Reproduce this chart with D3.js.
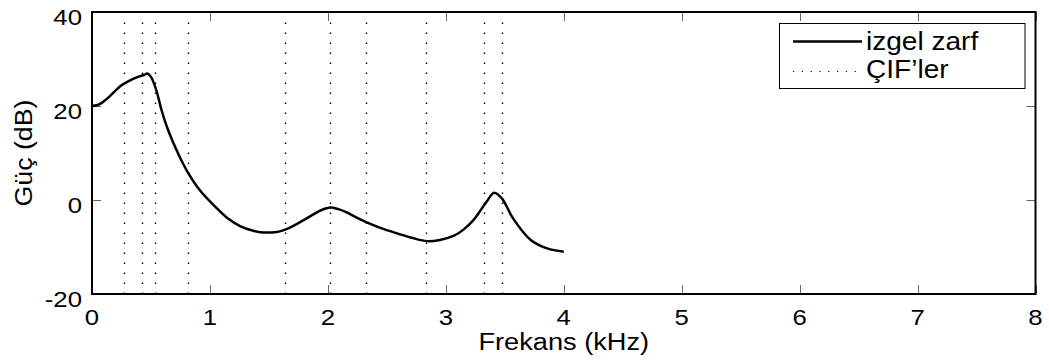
<!DOCTYPE html>
<html>
<head>
<meta charset="utf-8">
<script src="https://cdn.jsdelivr.net/npm/d3@7/dist/d3.min.js"></script>
<style>
  html, body { margin: 0; padding: 0; background: #fff; }
  svg { display: block; }
  text { font-family: "Liberation Sans", Arial, Helvetica, sans-serif; fill: #000; }
</style>
</head>
<body>
<svg id="chart" width="1049" height="363"></svg>
<script>
// ---- data ----
const freqKHz = [0, 0.04, 0.08, 0.12, 0.16, 0.25, 0.31, 0.39, 0.44, 0.47, 0.50, 0.545, 0.59, 0.645, 0.73, 0.81, 0.92, 1.04, 1.15, 1.26, 1.36, 1.45, 1.55, 1.62, 1.70, 1.82, 1.93, 1.98, 2.03, 2.09, 2.16, 2.24, 2.33, 2.45, 2.6, 2.72, 2.84, 2.95, 3.07, 3.15, 3.23, 3.30, 3.35, 3.41, 3.475, 3.57, 3.72, 3.86, 4.0];
const powerDB = [20, 20.15, 20.6, 21.4, 22.3, 24.4, 25.3, 26.2, 26.6, 26.9, 26.2, 23.4, 19.1, 14.9, 9.9, 6.0, 1.9, -1.3, -3.9, -5.6, -6.5, -6.9, -6.85, -6.45, -5.6, -3.9, -2.3, -1.8, -1.6, -1.95, -2.65, -3.7, -4.75, -6.0, -7.2, -8.1, -8.75, -8.5, -7.6, -6.3, -4.4, -2.0, -0.2, 1.55, 0.35, -3.9, -8.5, -10.3, -11.0];
const formantsKHz = [0.268, 0.424, 0.534, 0.81, 1.638, 2.02, 2.322, 2.836, 3.322, 3.475];
const xTicks = [0, 1, 2, 3, 4, 5, 6, 7, 8];
const yTicks = [-20, 0, 20, 40];
const xLabel = "Frekans (kHz)";
const yLabel = "Güç (dB)";
const legendLabels = ["izgel zarf", "ÇIF’ler"];

// ---- layout ----
const svg = d3.select("#chart");
const x = d3.scaleLinear().domain([0, 8]).range([92, 1035.5]);
const y = d3.scaleLinear().domain([-20, 40]).range([294, 12]);
const tickLen = 9;
const crisp = v => Math.round(v) + 0.5;

// tick marks (inward, all four sides)
const tg = svg.append("g").attr("stroke", "#666").attr("stroke-width", 1);
xTicks.forEach(t => {
  const xx = crisp(x(t));
  tg.append("line").attr("x1", xx).attr("x2", xx).attr("y1", y(-20)).attr("y2", y(-20) - tickLen);
  tg.append("line").attr("x1", xx).attr("x2", xx).attr("y1", y(40)).attr("y2", y(40) + tickLen);
});
yTicks.forEach(t => {
  const yy = crisp(y(t));
  tg.append("line").attr("y1", yy).attr("y2", yy).attr("x1", x(0)).attr("x2", x(0) + tickLen);
  tg.append("line").attr("y1", yy).attr("y2", yy).attr("x1", x(8)).attr("x2", x(8) - tickLen);
});

// formant dotted lines
svg.append("g").selectAll("line").data(formantsKHz).join("line")
  .attr("x1", d => crisp(x(d))).attr("x2", d => crisp(x(d)))
  .attr("y1", y(-20)).attr("y2", y(40) + tickLen)
  .attr("stroke", "#000").attr("stroke-width", 1.4)
  .attr("stroke-dasharray", "1.5,8.5");

// envelope curve
const pts = freqKHz.map((f, i) => ({ f, p: powerDB[i] }));
svg.append("path").datum(pts)
  .attr("fill", "none").attr("stroke", "#000").attr("stroke-width", 2.5)
  .attr("stroke-linejoin", "round")
  .attr("d", d3.line().x(d => x(d.f)).y(d => y(d.p)).curve(d3.curveCatmullRom.alpha(0.5)));

// axes box
svg.append("rect")
  .attr("x", x(0)).attr("y", y(40))
  .attr("width", x(8) - x(0)).attr("height", y(-20) - y(40))
  .attr("fill", "none").attr("stroke", "#000").attr("stroke-width", 2);

// tick labels
function stretchedText(g, txt, tx, ty, size, sx, anchor) {
  return g.append("text")
    .attr("transform", `translate(${tx},${ty}) scale(${sx},1)`)
    .attr("font-size", size).attr("text-anchor", anchor).text(txt);
}
const lg = svg.append("g");
xTicks.forEach(t => stretchedText(lg, String(t), x(t), 325, 22, 1.17, "middle"));
yTicks.forEach(t => stretchedText(lg, String(t), 82, y(t) + 13, 22, 1.17, "end"));

// axis labels
stretchedText(lg, xLabel, (x(0) + x(8)) / 2, 350, 24.5, 1.11, "middle");
lg.append("text")
  .attr("transform", `translate(32,${(y(-20) + y(40)) / 2}) rotate(-90) scale(1.09,1)`)
  .attr("font-size", 24.5).attr("text-anchor", "middle").text(yLabel);

// legend
const leg = svg.append("g");
leg.append("rect").attr("x", 779.5).attr("y", 23.5).attr("width", 245.5).attr("height", 65)
  .attr("fill", "#fff").attr("stroke", "#000").attr("stroke-width", 1);
leg.append("line").attr("x1", 793).attr("x2", 862).attr("y1", 41.5).attr("y2", 41.5)
  .attr("stroke", "#000").attr("stroke-width", 2.5);
leg.append("line").attr("x1", 793).attr("x2", 862).attr("y1", 71.5).attr("y2", 71.5)
  .attr("stroke", "#000").attr("stroke-width", 1.2).attr("stroke-dasharray", "1.2,7.6");
stretchedText(leg, legendLabels[0], 866, 50, 25.5, 1.1, "start");
stretchedText(leg, legendLabels[1], 866, 77.5, 25.5, 1.1, "start");
</script>
</body>
</html>
